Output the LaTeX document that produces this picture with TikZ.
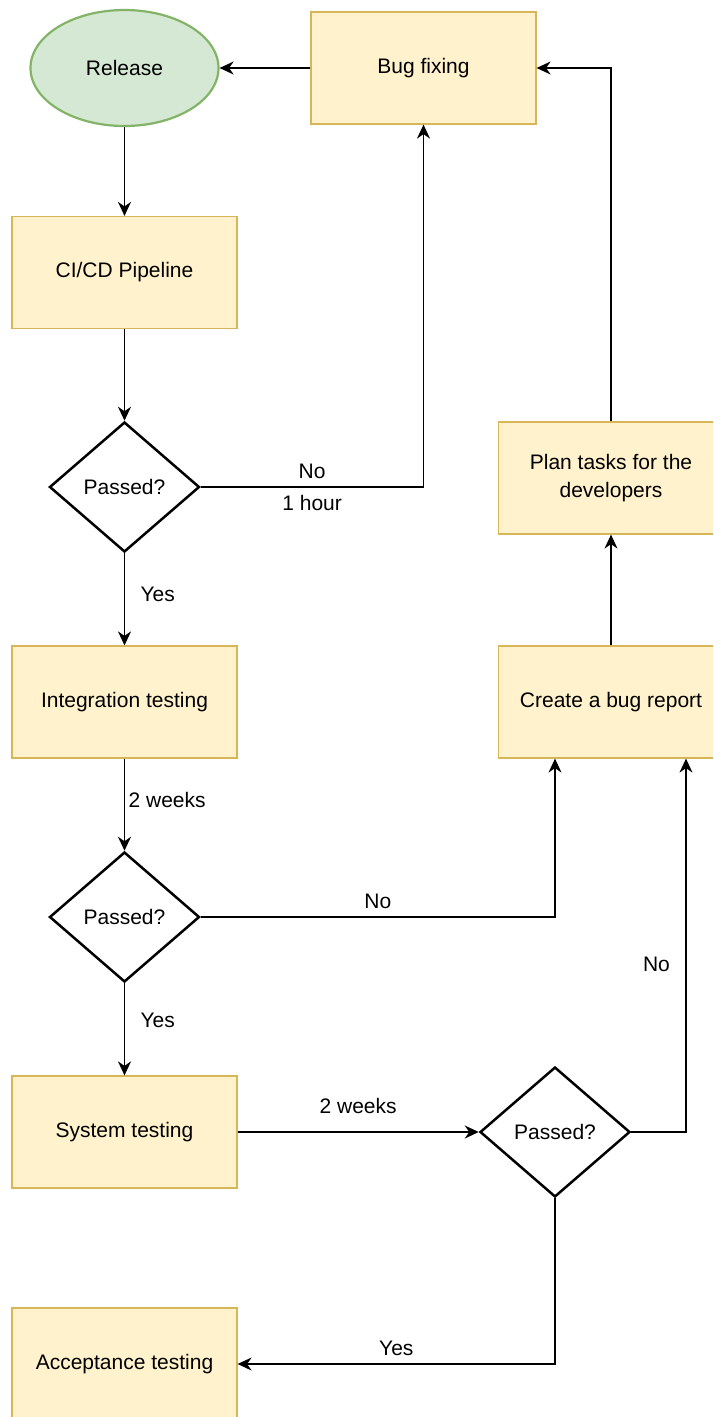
\documentclass[tikz,border=0pt]{standalone}
\usepackage{fontspec}
\setmainfont{Liberation Sans}
\usetikzlibrary{shapes.geometric,arrows.meta}

\definecolor{boxfill}{HTML}{FFF2CC}
\definecolor{boxline}{HTML}{D6B656}
\definecolor{okfill}{HTML}{D5E8D4}
\definecolor{okline}{HTML}{82B366}

\begin{document}
\begin{tikzpicture}[x=1pt, y=-1pt,
    every node/.style={font=\fontsize{21}{28}\selectfont},
    box/.style={draw=boxline, fill=boxfill, line width=1.2pt, minimum width=225pt, minimum height=112pt, align=center},
    decision/.style={diamond, draw=black, line width=2.5pt, minimum width=150pt, minimum height=130pt, inner sep=0pt},
    startend/.style={ellipse, draw=okline, fill=okfill, line width=2.2pt, minimum width=188pt, minimum height=116pt},
    flow/.style={line width=1.6pt, -{Stealth[length=14pt, width=13pt, inset=4.5pt]}}]
    \useasboundingbox (0,0) rectangle (713,1417);
    \clip (0,0) rectangle (713,1417);
    % draw steps
    \node[startend] (release) at (124.5,68) {Release};
    \node[box] (bugfix) at (423.5,68) {Bug fixing};
    \node[box] (cicd) at (124.5,272.5) {CI/CD Pipeline};
    \node[decision] (check1) at (124.5,487) {Passed?};
    \node[box] (integ) at (124.5,702) {Integration testing};
    \node[decision] (check2) at (124.5,917) {Passed?};
    \node[box] (systest) at (124.5,1132) {System testing};
    \node[decision] (check3) at (555,1132) {Passed?};
    \node[box] (accept) at (124.5,1364) {Acceptance testing};
    \node[box] (plan) at (611,478) {Plan tasks for the\\developers};
    \node[box] (bugrep) at (611,702) {Create a bug report};
    % draw flow
    \draw[flow] (bugfix) -- (release);
    \draw[flow] (release) -- (cicd);
    \draw[flow] (cicd) -- (check1);
    \draw[flow] (check1.east) -| (bugfix.south)
        node[pos=0.25, above=4pt] {No} node[pos=0.25, below=4pt] {1 hour};
    \draw[flow] (check1) -- node[right, xshift=12pt, pos=0.45] {Yes} (integ);
    \draw[flow] (integ) -- node[right, pos=0.45] {2 weeks} (check2);
    \draw[flow] (check2.east) -| (check3 |- bugrep.south) node[pos=0.25, above=4pt] {No};
    \draw[flow] (check2) -- node[right, xshift=12pt, pos=0.4] {Yes} (systest);
    \draw[flow] (systest) -- node[above=14pt] {2 weeks} (check3);
    \draw[flow] (check3.east) -| ([xshift=75pt]bugrep.south) node[pos=0.725, left=12pt] {No};
    \draw[flow] (check3.south) |- (accept.east) node[pos=0.75, above=4pt] {Yes};
    \draw[flow] (bugrep) -- (plan);
    \draw[flow] (plan.north) |- (bugfix.east);
\end{tikzpicture}
\end{document}
